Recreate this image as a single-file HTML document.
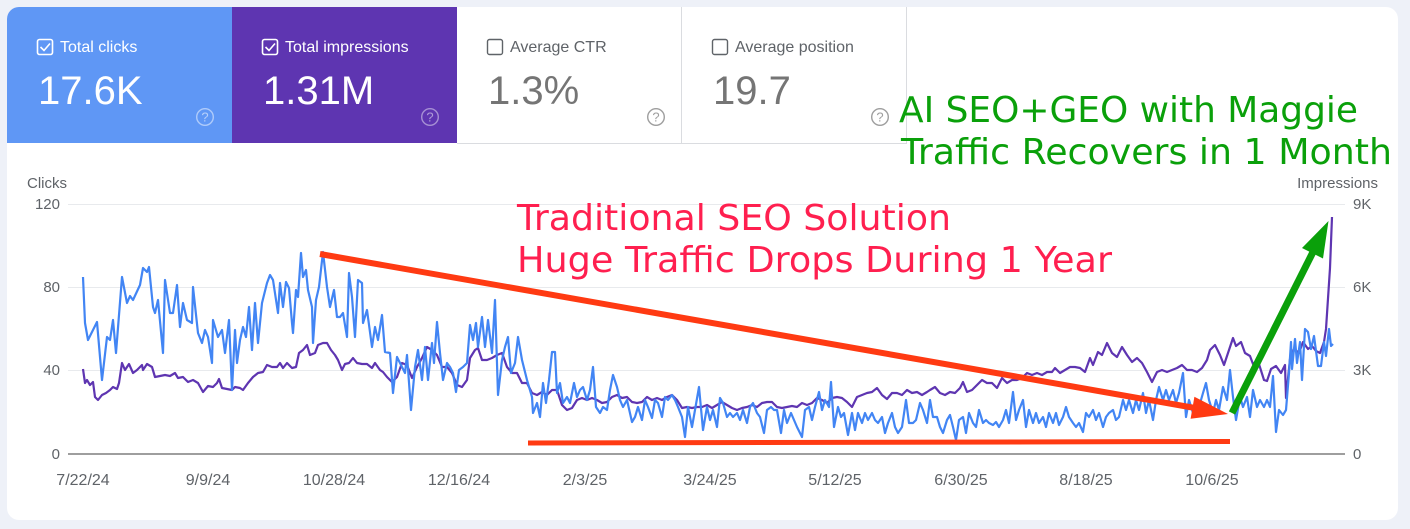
<!DOCTYPE html>
<html>
<head>
<meta charset="utf-8">
<style>
  html,body{margin:0;padding:0;}
  body{width:1410px;height:529px;overflow:hidden;background:#eef1f8;}
  svg{display:block;}
  .lbl{font-family:"Liberation Sans",Arial,sans-serif;}
  .dv{font-family:"DejaVu Sans","Liberation Sans",sans-serif;}
</style>
</head>
<body>
<svg width="1410" height="529" viewBox="0 0 1410 529" xmlns="http://www.w3.org/2000/svg">
  <!-- card -->
  <rect x="7" y="7" width="1391" height="513" rx="12" ry="12" fill="#ffffff"/>
  <!-- tiles -->
  <path d="M7,143 V19 A12,12 0 0 1 19,7 H232 V143 Z" fill="#5f97f5"/>
  <rect x="232" y="7" width="225" height="136" fill="#5e35b1"/>
  <line x1="681.5" y1="7" x2="681.5" y2="143" stroke="#dadce0" stroke-width="1"/>
  <line x1="906.5" y1="7" x2="906.5" y2="143" stroke="#dadce0" stroke-width="1"/>
  <line x1="457" y1="143.5" x2="907" y2="143.5" stroke="#dadce0" stroke-width="1"/>

  <!-- tile 1 -->
  <rect x="37.5" y="39.5" width="15" height="15" rx="2" fill="none" stroke="#ffffff" stroke-width="1.6"/>
  <path d="M40.5,47 L44,50.5 L50,43.5" fill="none" stroke="#ffffff" stroke-width="1.6"/>
  <text x="60" y="52" class="lbl" font-size="16" fill="#ffffff">Total clicks</text>
  <text x="38" y="104" class="lbl" font-size="40" fill="#ffffff">17.6K</text>
  <circle cx="205" cy="117" r="8.3" fill="none" stroke="rgba(255,255,255,0.5)" stroke-width="1.4"/>
  <text x="205" y="121.5" class="lbl" font-size="13" fill="rgba(255,255,255,0.55)" text-anchor="middle">?</text>

  <!-- tile 2 -->
  <rect x="262.5" y="39.5" width="15" height="15" rx="2" fill="none" stroke="#ffffff" stroke-width="1.6"/>
  <path d="M265.5,47 L269,50.5 L275,43.5" fill="none" stroke="#ffffff" stroke-width="1.6"/>
  <text x="285" y="52" class="lbl" font-size="16" fill="#ffffff">Total impressions</text>
  <text x="263" y="104" class="lbl" font-size="40" fill="#ffffff">1.31M</text>
  <circle cx="430" cy="117" r="8.3" fill="none" stroke="rgba(255,255,255,0.45)" stroke-width="1.4"/>
  <text x="430" y="121.5" class="lbl" font-size="13" fill="rgba(255,255,255,0.5)" text-anchor="middle">?</text>

  <!-- tile 3 -->
  <rect x="487.5" y="39.5" width="15" height="15" rx="2" fill="none" stroke="#5f6368" stroke-width="1.4"/>
  <text x="510" y="52" class="lbl" font-size="16" fill="#5f6368">Average CTR</text>
  <text x="488" y="104" class="lbl" font-size="40" fill="#757575">1.3%</text>
  <circle cx="656" cy="117" r="8.3" fill="none" stroke="#9e9e9e" stroke-width="1.4"/>
  <text x="656" y="121.5" class="lbl" font-size="13" fill="#9e9e9e" text-anchor="middle">?</text>

  <!-- tile 4 -->
  <rect x="712.5" y="39.5" width="15" height="15" rx="2" fill="none" stroke="#5f6368" stroke-width="1.4"/>
  <text x="735" y="52" class="lbl" font-size="16" fill="#5f6368">Average position</text>
  <text x="713" y="104" class="lbl" font-size="40" fill="#757575">19.7</text>
  <circle cx="880" cy="117" r="8.3" fill="none" stroke="#9e9e9e" stroke-width="1.4"/>
  <text x="880" y="121.5" class="lbl" font-size="13" fill="#9e9e9e" text-anchor="middle">?</text>

  <!-- axis titles -->
  <text x="27" y="188" class="lbl" font-size="15" fill="#5f6368">Clicks</text>
  <text x="1378" y="188" class="lbl" font-size="15" fill="#5f6368" text-anchor="end">Impressions</text>

  <!-- grid -->
  <g stroke="#e8eaed" stroke-width="1">
    <line x1="68" y1="204.5" x2="1345" y2="204.5"/>
    <line x1="68" y1="287.5" x2="1345" y2="287.5"/>
    <line x1="68" y1="370.5" x2="1345" y2="370.5"/>
  </g>
  <line x1="68" y1="454" x2="1345" y2="454" stroke="#9e9e9e" stroke-width="2"/>

  <!-- left ticks -->
  <g class="lbl" font-size="15" fill="#5f6368" text-anchor="end">
    <text x="60" y="209">120</text>
    <text x="60" y="292">80</text>
    <text x="60" y="375">40</text>
    <text x="60" y="459">0</text>
  </g>
  <!-- right ticks -->
  <g class="lbl" font-size="15" fill="#5f6368">
    <text x="1353" y="209">9K</text>
    <text x="1353" y="292">6K</text>
    <text x="1353" y="375">3K</text>
    <text x="1353" y="459">0</text>
  </g>
  <!-- dates -->
  <g class="lbl" font-size="16" fill="#5f6368" text-anchor="middle">
    <text x="83" y="485">7/22/24</text>
    <text x="208" y="485">9/9/24</text>
    <text x="334" y="485">10/28/24</text>
    <text x="459" y="485">12/16/24</text>
    <text x="585" y="485">2/3/25</text>
    <text x="710" y="485">3/24/25</text>
    <text x="835" y="485">5/12/25</text>
    <text x="961" y="485">6/30/25</text>
    <text x="1086" y="485">8/18/25</text>
    <text x="1212" y="485">10/6/25</text>
  </g>

  <!-- impressions (purple) -->
  <polyline fill="none" stroke="#5e35b1" stroke-width="2.2" stroke-linejoin="round" points="83,369 85,383 87,380 90,385 93,382 95,397 98,400 102,395 106,393 110,390 113,387 117,389 119,383 122,363 125,370 129,364 133,373 137,370 142,365 143,370 147,364 152,367 155,377 160,376 165,375 170,376 175,373 178,378 183,377 188,382 193,380 198,383 203,392 208,386 213,387 217,383 219,379 222,388 227,389 232,390 235,387 240,388 243,390 248,383 253,377 258,373 263,372 267,365 272,367 277,367 280,363 283,368 287,363 292,368 296,367 299,353 303,350 307,345 310,355 315,353 318,345 323,343 327,343 331,350 335,355 338,360 342,370 345,364 349,363 353,358 357,363 362,364 367,364 372,368 375,363 380,370 383,372 387,377 392,382 397,377 402,363 407,365 412,378 417,367 422,358 427,347 432,350 437,355 442,367 447,367 452,373 457,385 462,387 467,380 470,358 475,350 478,348 482,360 487,360 492,358 497,355 502,353 507,367 512,373 517,373 522,383 527,383 532,393 537,395 542,392 547,395 552,390 557,390 562,405 567,410 572,408 577,400 582,398 587,400 592,398 597,400 602,403 607,402 612,397 617,395 622,398 627,397 632,402 637,403 642,402 647,397 652,400 657,398 662,400 667,397 672,395 677,400 682,408 687,407 692,408 697,407 702,407 707,405 712,408 717,405 722,402 727,405 732,408 737,410 742,408 747,407 752,405 757,407 762,403 767,402 772,402 777,407 782,408 787,407 792,406 797,407 802,403 807,405 812,403 817,398 822,400 827,403 832,398 837,397 842,398 847,402 852,407 857,397 862,395 867,393 872,392 877,388 882,395 887,399 892,393 897,393 902,395 907,390 912,393 917,392 922,395 927,392 930,390 935,387 940,393 945,395 950,392 955,393 960,388 963,382 967,392 972,390 977,385 982,380 987,383 992,383 997,388 1002,378 1007,383 1012,380 1017,380 1022,378 1027,373 1032,375 1037,373 1042,375 1047,372 1052,372 1055,368 1060,373 1065,370 1070,367 1075,367 1080,368 1085,372 1090,358 1093,365 1098,352 1102,355 1107,343 1112,353 1117,357 1122,347 1127,355 1132,362 1137,358 1142,363 1147,372 1152,382 1157,372 1162,370 1167,372 1172,370 1177,368 1182,365 1187,370 1192,370 1197,372 1202,368 1207,360 1210,350 1215,345 1220,355 1224,365 1228,353 1233,338 1236,346 1241,342 1245,353 1250,356 1253,364 1258,361 1264,380 1267,381 1271,369 1276,366 1281,373 1285,365 1286,398 1290,359 1294,349 1299,353 1303,342 1308,349 1312,346 1316,351 1320,353 1324,342 1326,329 1330,268 1332,217"/>

  <!-- clicks (blue) -->
  <polyline fill="none" stroke="#4285f4" stroke-width="2.2" stroke-linejoin="round" points="83,277 85,323 88,340 93,330 97,322 100,357 102,380 107,337 110,340 113,320 116,353 122,277 127,303 130,296 133,300 140,285 143,268 147,272 149,267 153,307 155,313 158,300 163,353 165,280 170,313 173,313 177,285 180,327 183,303 187,320 192,323 193,287 198,333 202,343 205,330 208,337 212,363 213,320 218,337 222,330 225,353 229,320 232,390 235,330 237,363 240,340 243,327 246,337 249,307 252,350 255,303 258,343 262,303 267,283 270,275 273,280 278,313 280,283 283,307 286,282 289,288 292,323 293,333 296,290 298,297 301,253 303,277 306,270 308,290 312,307 313,343 316,300 319,287 323,252 327,287 330,307 334,290 337,317 340,317 343,313 347,337 349,273 352,297 355,337 358,280 362,283 363,323 367,310 372,347 375,327 378,340 382,315 385,352 390,353 393,393 397,357 400,363 405,373 407,355 411,410 415,367 418,350 422,380 425,347 428,380 432,343 434,363 437,322 440,353 443,380 447,363 450,367 453,373 456,392 459,370 463,367 467,363 470,325 473,340 476,323 478,347 482,317 485,347 488,320 492,353 495,300 498,395 502,360 505,347 508,337 511,373 515,363 518,337 522,360 527,380 532,397 533,413 537,403 540,417 543,383 546,403 549,380 552,352 555,352 557,393 560,383 563,403 567,397 570,403 574,383 577,397 580,390 583,387 587,400 590,390 593,367 596,407 600,413 603,407 607,410 610,390 613,375 617,387 620,400 623,407 627,400 632,422 635,417 638,407 642,420 645,400 648,407 652,418 655,400 658,403 662,417 665,397 668,400 672,395 675,400 678,407 682,417 685,437 688,407 692,427 695,410 699,387 703,430 707,407 710,420 713,410 717,427 720,398 723,403 727,417 730,413 733,417 737,413 740,420 743,410 747,423 750,407 753,403 757,413 760,417 764,433 767,410 771,407 774,410 777,410 781,433 784,410 787,423 791,413 794,420 797,427 802,437 805,410 809,407 812,420 815,407 819,392 822,410 825,400 829,407 831,382 834,427 838,407 841,417 844,413 848,435 852,413 855,430 858,413 862,423 865,413 868,420 872,413 875,420 878,423 882,417 885,433 888,423 892,413 895,427 898,433 902,427 906,400 909,423 913,423 916,420 920,403 923,410 927,423 930,400 933,417 937,417 940,427 943,433 947,420 950,415 953,427 956,440 959,420 963,417 966,433 969,413 973,423 976,427 979,410 983,423 986,420 989,423 993,425 996,422 999,427 1003,420 1006,410 1009,423 1013,392 1016,420 1019,410 1023,400 1026,427 1029,410 1033,423 1036,413 1039,423 1043,417 1046,427 1049,413 1053,423 1056,413 1059,425 1063,417 1066,407 1069,417 1073,423 1076,427 1079,423 1083,432 1086,413 1089,417 1093,410 1096,420 1099,413 1103,427 1106,417 1109,413 1113,410 1116,420 1119,417 1123,400 1126,410 1129,400 1133,413 1136,400 1139,410 1143,393 1146,413 1149,400 1153,420 1156,400 1159,387 1163,400 1166,390 1169,400 1173,390 1176,403 1179,393 1183,373 1186,417 1189,400 1193,413 1196,400 1199,407 1203,393 1206,383 1209,400 1213,413 1216,400 1219,410 1223,387 1227,400 1230,370 1233,397 1236,420 1240,397 1243,407 1247,397 1250,417 1253,390 1257,407 1260,400 1264,407 1267,400 1270,407 1273,376 1276,432 1279,410 1283,415 1286,410 1289,373 1291,342 1292,369 1295,339 1297,363 1300,342 1302,380 1305,329 1308,332 1311,349 1314,336 1318,366 1321,366 1324,342 1326,356 1329,329 1331,346 1333,344"/>

  <!-- red annotations -->
  <line x1="320" y1="254" x2="1195" y2="408" stroke="#ff3a12" stroke-width="6"/>
  <polygon points="1228,414 1190.6,418.8 1194.4,396.8" fill="#ff3a12"/>
  <line x1="528" y1="443" x2="1230" y2="441.5" stroke="#ff3a12" stroke-width="5"/>

  <!-- green arrow -->
  <line x1="1232" y1="413" x2="1313" y2="252" stroke="#0aa00a" stroke-width="7"/>
  <polygon points="1328.5,221 1323,258.5 1302,248" fill="#0aa00a"/>

  <!-- annotation text -->
  <text x="517" y="230" class="dv" font-size="36" fill="#ff1f4f" textLength="434" lengthAdjust="spacingAndGlyphs">Traditional SEO Solution</text>
  <text x="517" y="272" class="dv" font-size="36" fill="#ff1f4f" textLength="595" lengthAdjust="spacingAndGlyphs">Huge Traffic Drops During 1 Year</text>
  <text x="899" y="122" class="dv" font-size="36" fill="#0aa00a" textLength="459" lengthAdjust="spacingAndGlyphs">AI SEO+GEO with Maggie</text>
  <text x="901" y="164" class="dv" font-size="36" fill="#0aa00a" textLength="491" lengthAdjust="spacingAndGlyphs">Traffic Recovers in 1 Month</text>
</svg>
</body>
</html>
